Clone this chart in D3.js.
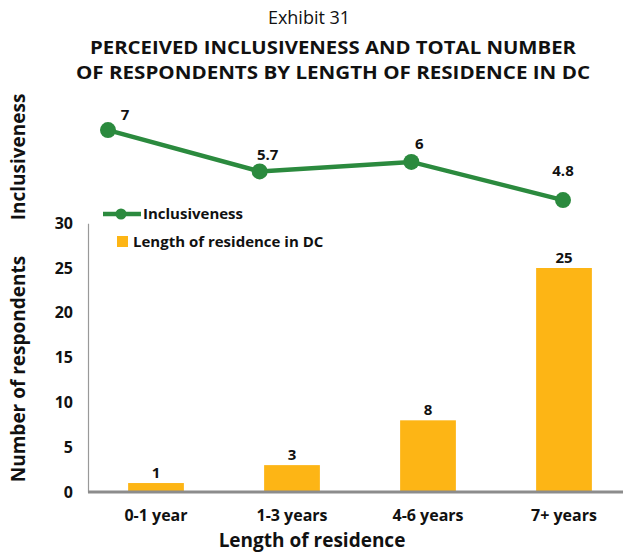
<!DOCTYPE html>
<html>
<head>
<meta charset="utf-8">
<script src="https://cdn.jsdelivr.net/npm/d3@7"></script>
<style>
  html, body { margin: 0; padding: 0; background: #fff; }
  svg { display: block; font-family: "Open Sans", "Liberation Sans", sans-serif; }
</style>
</head>
<body>
<svg id="chart" width="623" height="556"></svg>
<script>
// Residence-length categories shared by both panels
const categories = ["0-1 year", "1-3 years", "4-6 years", "7+ years"];
const tickLabels = ["0-1 year", "1-3 years", "4-6 years", "7+ years"];
// Perceived inclusiveness score per group
const inclusiveness = [7, 5.7, 6, 4.8];
// Number of respondents per group
const respondents = [1, 3, 8, 25];
const countTicks = [0, 5, 10, 15, 20, 25, 30];

const green = "#2b8a3e";
const gold = "#fdb515";
const ink = "#111";

const svg = d3.select("#chart");

// ---- Titles ----
svg.append("text").attr("x", 309).attr("y", 24).attr("text-anchor", "middle")
  .attr("font-size", 18).attr("fill", ink).text("Exhibit 31");
svg.append("text").attr("x", 333).attr("y", 54).attr("text-anchor", "middle")
  .attr("font-size", 17).attr("font-weight", "bold").attr("fill", ink)
  .attr("textLength", 486).attr("lengthAdjust", "spacingAndGlyphs")
  .text("PERCEIVED INCLUSIVENESS AND TOTAL NUMBER");
svg.append("text").attr("x", 333).attr("y", 79).attr("text-anchor", "middle")
  .attr("font-size", 17).attr("font-weight", "bold").attr("fill", ink)
  .attr("textLength", 514).attr("lengthAdjust", "spacingAndGlyphs")
  .text("OF RESPONDENTS BY LENGTH OF RESIDENCE IN DC");

// ---- Upper panel: inclusiveness line ----
const xLine = d3.scalePoint().domain(categories).range([108, 563]);
const yLine = d3.scaleLinear().domain([4.5, 7.5]).range([209.6, 114.2]);

const lineGen = d3.line()
  .x((d, i) => xLine(categories[i]))
  .y(d => yLine(d));

svg.append("path").datum(inclusiveness)
  .attr("d", lineGen).attr("fill", "none")
  .attr("stroke", green).attr("stroke-width", 4.5);

svg.selectAll("circle.pt").data(inclusiveness).enter().append("circle")
  .attr("class", "pt")
  .attr("cx", (d, i) => xLine(categories[i]))
  .attr("cy", d => yLine(d))
  .attr("r", 8).attr("fill", green);

// value labels next to each point
const lineLabelNudge = [[17, -10], [8, -11], [8, -13], [0, -24]];
svg.selectAll("text.lv").data(inclusiveness).enter().append("text")
  .attr("class", "lv")
  .attr("x", (d, i) => xLine(categories[i]) + lineLabelNudge[i][0])
  .attr("y", (d, i) => yLine(d) + lineLabelNudge[i][1])
  .attr("text-anchor", "middle").attr("font-size", 15).attr("font-weight", "bold")
  .attr("fill", ink).text(d => d);

svg.append("text")
  .attr("transform", "translate(25,157) rotate(-90)")
  .attr("text-anchor", "middle").attr("font-size", 19).attr("font-weight", "bold")
  .attr("fill", ink).text("Inclusiveness");

// ---- Lower panel: respondents bars ----
const xBar = d3.scaleBand().domain(categories).range([88, 632]).padding(0.59).paddingOuter(0.295);
const yBar = d3.scaleLinear().domain([0, 30]).range([492, 223.2]);

// y axis
const yAxis = d3.axisLeft(yBar).tickValues(countTicks).tickSize(0).tickPadding(15);
const gy = svg.append("g").attr("transform", "translate(88,0)").call(yAxis);
gy.select(".domain").attr("stroke", "#999").attr("stroke-width", 1.2);
gy.selectAll("text").attr("font-size", 16).attr("font-weight", "bold")
  .attr("fill", ink).attr("font-family", "'Open Sans', sans-serif");

// bars
svg.selectAll("rect.bar").data(respondents).enter().append("rect")
  .attr("class", "bar")
  .attr("x", (d, i) => xBar(categories[i]))
  .attr("y", d => yBar(d))
  .attr("width", xBar.bandwidth())
  .attr("height", d => yBar(0) - yBar(d))
  .attr("fill", gold);

svg.selectAll("text.bv").data(respondents).enter().append("text")
  .attr("class", "bv")
  .attr("x", (d, i) => xBar(categories[i]) + xBar.bandwidth() / 2)
  .attr("y", d => yBar(d) - 5)
  .attr("text-anchor", "middle").attr("font-size", 15).attr("font-weight", "bold")
  .attr("fill", ink).text(d => d);

// x axis baseline and category labels
const xAxis = d3.axisBottom(xBar).tickSize(0).tickPadding(18)
  .tickFormat((d, i) => tickLabels[i]);
const gx = svg.append("g").attr("transform", "translate(0,492)").call(xAxis);
gx.select(".domain").attr("d", "M88,0H623").attr("stroke", "#8c8c8c").attr("stroke-width", 3);
gx.selectAll("text").attr("font-size", 16).attr("font-weight", "bold")
  .attr("fill", ink).attr("font-family", "'Open Sans', sans-serif");

svg.append("text").attr("x", 312).attr("y", 547).attr("text-anchor", "middle")
  .attr("font-size", 19).attr("font-weight", "bold").attr("fill", ink)
  .text("Length of residence");

svg.append("text")
  .attr("transform", "translate(25,369) rotate(-90)")
  .attr("text-anchor", "middle").attr("font-size", 19).attr("font-weight", "bold")
  .attr("fill", ink).text("Number of respondents");

// ---- Legend ----
const lg = svg.append("g");
lg.append("line").attr("x1", 103).attr("x2", 141).attr("y1", 214).attr("y2", 214)
  .attr("stroke", green).attr("stroke-width", 4.5);
lg.append("circle").attr("cx", 121).attr("cy", 214).attr("r", 5.5).attr("fill", green);
lg.append("text").attr("x", 143).attr("y", 219).attr("font-size", 15)
  .attr("font-weight", "bold").attr("fill", ink).text("Inclusiveness");
lg.append("rect").attr("x", 117).attr("y", 236).attr("width", 11).attr("height", 11)
  .attr("fill", gold);
lg.append("text").attr("x", 133).attr("y", 247).attr("font-size", 15)
  .attr("font-weight", "bold").attr("fill", ink).text("Length of residence in DC");
</script>
</body>
</html>
